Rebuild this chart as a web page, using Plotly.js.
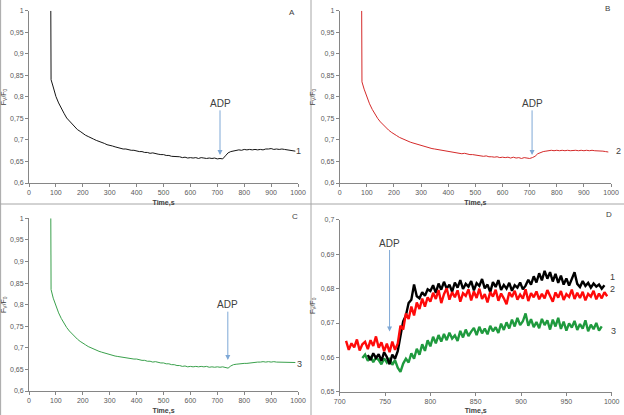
<!DOCTYPE html>
<html>
<head>
<meta charset="utf-8">
<script src="https://cdn.plot.ly/plotly-3.0.1.min.js"></script>
<style>html,body{margin:0;padding:0;background:#fff;}#chart{width:624px;height:415px;}</style>
</head>
<body>
<div id="chart"></div>
<script>
// ---------- Data ----------
// Panels A, B, C: full recordings, time in s
var timeABC = [81, 82, 90, 100, 110, 120, 130, 140, 150, 160, 170, 180, 190, 200, 210, 220, 230, 240, 250, 260, 270, 280, 290, 300, 310, 320, 330, 340, 350, 360, 370, 380, 390, 400, 410, 420, 430, 440, 450, 460, 470, 480, 490, 500, 510, 520, 530, 540, 550, 560, 570, 580, 590, 600, 610, 620, 630, 640, 650, 660, 670, 680, 690, 700, 710, 720, 730, 740, 750, 760, 770, 780, 790, 800, 810, 820, 830, 840, 850, 860, 870, 880, 890, 900, 910, 920, 930, 940, 950, 960, 970, 980, 990];

var series1 = [1.0, 0.840, 0.823, 0.801, 0.786, 0.772, 0.762, 0.751, 0.744, 0.736, 0.731, 0.724, 0.720, 0.715, 0.711, 0.708, 0.704, 0.702, 0.699, 0.697, 0.694, 0.692, 0.689, 0.688, 0.686, 0.684, 0.682, 0.681, 0.679, 0.679, 0.677, 0.676, 0.676, 0.674, 0.673, 0.673, 0.671, 0.671, 0.669, 0.670, 0.668, 0.667, 0.666, 0.666, 0.664, 0.664, 0.662, 0.662, 0.661, 0.661, 0.659, 0.660, 0.658, 0.659, 0.658, 0.659, 0.657, 0.659, 0.658, 0.657, 0.658, 0.657, 0.658, 0.656, 0.657, 0.656, 0.663, 0.670, 0.673, 0.674, 0.676, 0.677, 0.676, 0.678, 0.677, 0.678, 0.677, 0.678, 0.677, 0.678, 0.677, 0.679, 0.679, 0.680, 0.678, 0.679, 0.678, 0.679, 0.678, 0.677, 0.677, 0.675, 0.674];

var series2 = [1.0, 0.835, 0.818, 0.800, 0.784, 0.771, 0.760, 0.750, 0.742, 0.735, 0.729, 0.723, 0.718, 0.713, 0.710, 0.706, 0.703, 0.700, 0.698, 0.695, 0.693, 0.691, 0.689, 0.687, 0.685, 0.683, 0.682, 0.680, 0.679, 0.678, 0.676, 0.676, 0.674, 0.674, 0.672, 0.672, 0.670, 0.670, 0.668, 0.669, 0.667, 0.666, 0.666, 0.665, 0.664, 0.664, 0.662, 0.663, 0.661, 0.661, 0.660, 0.661, 0.659, 0.660, 0.659, 0.660, 0.658, 0.660, 0.658, 0.659, 0.657, 0.659, 0.658, 0.657, 0.659, 0.662, 0.668, 0.671, 0.673, 0.674, 0.675, 0.676, 0.675, 0.676, 0.675, 0.676, 0.675, 0.676, 0.675, 0.676, 0.676, 0.675, 0.676, 0.675, 0.676, 0.675, 0.676, 0.675, 0.675, 0.674, 0.674, 0.673, 0.672];

var series3 = [1.0, 0.835, 0.815, 0.797, 0.781, 0.768, 0.757, 0.747, 0.739, 0.732, 0.726, 0.720, 0.715, 0.710, 0.707, 0.703, 0.700, 0.697, 0.695, 0.692, 0.690, 0.688, 0.686, 0.685, 0.683, 0.681, 0.680, 0.679, 0.677, 0.677, 0.675, 0.675, 0.674, 0.674, 0.672, 0.671, 0.671, 0.669, 0.669, 0.667, 0.668, 0.666, 0.665, 0.665, 0.663, 0.663, 0.661, 0.661, 0.659, 0.659, 0.657, 0.658, 0.656, 0.657, 0.656, 0.657, 0.656, 0.657, 0.656, 0.657, 0.655, 0.656, 0.655, 0.656, 0.655, 0.656, 0.655, 0.653, 0.658, 0.661, 0.662, 0.663, 0.663, 0.664, 0.664, 0.665, 0.665, 0.666, 0.667, 0.667, 0.668, 0.667, 0.668, 0.667, 0.668, 0.667, 0.667, 0.666, 0.667, 0.666, 0.667, 0.666, 0.666];

// Panel D: zoom on 700-1000 s, sampled every 3 s
var dStep = 3;
var dStart1 = 731, dStart2 = 707, dStart3 = 725;
var zoom1 = [0.6607, 0.6592, 0.6612, 0.6598, 0.6609, 0.6590, 0.6615, 0.6601, 0.6580, 0.6608, 0.6596, 0.6618,
  0.6662, 0.6705, 0.6722, 0.6758, 0.6768, 0.6812, 0.6778, 0.6772, 0.6790, 0.6779, 0.6798,
  0.6793, 0.6810, 0.6788, 0.6815, 0.6797, 0.6820, 0.6800, 0.6812, 0.6791, 0.6818,
  0.6803, 0.6825, 0.6799, 0.6814, 0.6806, 0.6822, 0.6795, 0.6816, 0.6808, 0.6828,
  0.6801, 0.6812, 0.6790, 0.6819, 0.6805, 0.6825, 0.6796, 0.6811, 0.6800, 0.6817,
  0.6794, 0.6810, 0.6803, 0.6818, 0.6798, 0.6809, 0.6826, 0.6812, 0.6836, 0.6818,
  0.6845, 0.6824, 0.6852, 0.6829, 0.6848, 0.6821, 0.6843, 0.6817, 0.6838, 0.6812,
  0.6830, 0.6809, 0.6826, 0.6848, 0.6814, 0.6805, 0.6822, 0.6808, 0.6817, 0.6803,
  0.6815, 0.6806, 0.6812, 0.6800, 0.6810];
var zoom2 = [0.6648, 0.6622, 0.6641, 0.6629, 0.6652, 0.6620, 0.6638, 0.6645, 0.6624, 0.6650, 0.6633, 0.6661, 0.6628, 0.6644, 0.6618, 0.6640, 0.6615, 0.6646, 0.6622,
  0.6640, 0.6692, 0.6681, 0.6728, 0.6712, 0.6748, 0.6722, 0.6760, 0.6741, 0.6771, 0.6748, 0.6775,
  0.6762, 0.6788, 0.6770, 0.6796, 0.6758, 0.6784, 0.6801, 0.6768, 0.6790, 0.6775,
  0.6795, 0.6762, 0.6787, 0.6779, 0.6798, 0.6766, 0.6792, 0.6773, 0.6800, 0.6770,
  0.6784, 0.6760, 0.6790, 0.6777, 0.6797, 0.6765, 0.6786, 0.6772, 0.6755, 0.6789,
  0.6776, 0.6794, 0.6768, 0.6783, 0.6771, 0.6798, 0.6764, 0.6787, 0.6775, 0.6792,
  0.6769, 0.6785, 0.6772, 0.6796, 0.6778, 0.6762, 0.6789, 0.6774, 0.6793, 0.6767,
  0.6784, 0.6776, 0.6797, 0.6770, 0.6788, 0.6773, 0.6791, 0.6766, 0.6785, 0.6777,
  0.6794, 0.6769, 0.6786, 0.6772, 0.6790, 0.6778];
var zoom3 = [0.6598, 0.6608, 0.6590, 0.6603, 0.6586, 0.6600, 0.6592, 0.6580, 0.6597, 0.6585, 0.6598, 0.6578, 0.6592, 0.6570, 0.6558, 0.6582, 0.6596, 0.6585,
  0.6612, 0.6596, 0.6625, 0.6608, 0.6638, 0.6619, 0.6650, 0.6632, 0.6660, 0.6641,
  0.6665, 0.6646, 0.6668, 0.6650, 0.6672, 0.6655, 0.6664, 0.6648, 0.6677, 0.6658,
  0.6681, 0.6662, 0.6675, 0.6686, 0.6665, 0.6689, 0.6670, 0.6684, 0.6667, 0.6692,
  0.6676, 0.6688, 0.6671, 0.6698, 0.6680, 0.6702, 0.6684, 0.6710, 0.6690, 0.6715,
  0.6694, 0.6705, 0.6728, 0.6692, 0.6711, 0.6688, 0.6703, 0.6685, 0.6712, 0.6694,
  0.6708, 0.6681, 0.6710, 0.6690, 0.6715, 0.6683, 0.6704, 0.6678, 0.6699, 0.6687,
  0.6706, 0.6680, 0.6697, 0.6684, 0.6708, 0.6676, 0.6695, 0.6682, 0.6700, 0.6678, 0.6690];

// Tick labels
var yTickValsABC = [0.6, 0.65, 0.7, 0.75, 0.8, 0.85, 0.9, 0.95, 1];
var yTickTextABC = ['0,6', '0,65', '0,7', '0,75', '0,8', '0,85', '0,9', '0,95', '1'];
var yTickValsD = [0.65, 0.66, 0.67, 0.68, 0.69, 0.7];
var yTickTextD = ['0,65', '0,66', '0,67', '0,68', '0,69', '0,7'];
var xTickValsABC = [0, 100, 200, 300, 400, 500, 600, 700, 800, 900, 1000];
var xTickValsD = [700, 750, 800, 850, 900, 950, 1000];

// ---------- helpers ----------
function timeGrid(start, n, step) { var t = []; for (var i = 0; i < n; i++) t.push(start + i * step); return t; }

var tD1 = timeGrid(dStart1, zoom1.length, dStep);
var tD2 = timeGrid(dStart2, zoom2.length, dStep);
var tD3 = timeGrid(dStart3, zoom3.length, dStep);

var AX = '#868686', TK = '#595959', TXT = '#404040', FONT = 'Liberation Sans, Arial, sans-serif';
var cBlack = '#151515', cRed = '#d42a2a', cGreen = '#3aa04c';

var traces = [
  {x: timeABC, y: series1, xaxis: 'x', yaxis: 'y', mode: 'lines', line: {color: cBlack, width: 1}},
  {x: timeABC, y: series2, xaxis: 'x2', yaxis: 'y2', mode: 'lines', line: {color: cRed, width: 1}},
  {x: timeABC, y: series3, xaxis: 'x3', yaxis: 'y3', mode: 'lines', line: {color: cGreen, width: 1}},
  {x: tD3, y: zoom3, xaxis: 'x4', yaxis: 'y4', mode: 'lines', line: {color: '#1f9a3e', width: 2.4}},
  {x: tD1, y: zoom1, xaxis: 'x4', yaxis: 'y4', mode: 'lines', line: {color: '#000000', width: 2.4}},
  {x: tD2, y: zoom2, xaxis: 'x4', yaxis: 'y4', mode: 'lines', line: {color: '#ff0a0a', width: 2.4}}
];

function xa(dom, anchor, range, ticks) {
  return {domain: dom, anchor: anchor, range: range, tickvals: ticks, showgrid: false, zeroline: false,
    showline: true, linecolor: AX, linewidth: 1, ticks: 'outside', ticklen: 3, tickcolor: AX,
    tickfont: {family: FONT, size: 7, color: TK}, fixedrange: true,
    title: {text: '<b>Time,s</b>', font: {family: FONT, size: 7, color: TXT}, standoff: 4}};
}
function ya(dom, anchor, range, vals, text) {
  return {domain: dom, anchor: anchor, range: range, tickvals: vals, ticktext: text, showgrid: false, zeroline: false,
    showline: true, linecolor: AX, linewidth: 1, ticks: 'outside', ticklen: 3, tickcolor: AX,
    tickfont: {family: FONT, size: 7, color: TK}, fixedrange: true,
    title: {text: 'F<sub>V</sub>/F<sub>0</sub>', font: {family: FONT, size: 7, color: TXT}, standoff: 4}};
}

function adp(xr, yr, x, yTip, yText) {
  return {xref: xr, yref: yr, axref: xr, ayref: yr, x: x, y: yTip, ax: x, ay: yText, text: 'ADP',
    showarrow: true, arrowhead: 2, arrowsize: 1, arrowwidth: 1, arrowcolor: '#7ea8d6',
    font: {family: FONT, size: 10, color: TXT}};
}
function lab(x, y, t, size) {
  return {xref: 'paper', yref: 'paper', x: x, y: y, text: t, showarrow: false, xanchor: 'center', yanchor: 'middle',
    font: {family: FONT, size: size, color: TXT}};
}

var layout = {
  width: 624, height: 415, margin: {l: 0, r: 0, t: 0, b: 0},
  paper_bgcolor: '#ffffff', plot_bgcolor: 'rgba(0,0,0,0)', showlegend: false,
  xaxis: xa([0.0465, 0.4776], 'y', [0, 1000], xTickValsABC),
  yaxis: ya([0.559, 0.974], 'x', [0.6, 1], yTickValsABC, yTickTextABC),
  xaxis2: xa([0.5444, 0.9792], 'y2', [0, 1000], xTickValsABC),
  yaxis2: ya([0.559, 0.974], 'x2', [0.6, 1], yTickValsABC, yTickTextABC),
  xaxis3: xa([0.0465, 0.4776], 'y3', [0, 1000], xTickValsABC),
  yaxis3: ya([0.0578, 0.474], 'x3', [0.6, 1], yTickValsABC, yTickTextABC),
  xaxis4: xa([0.5444, 0.9803], 'y4', [700, 1000], xTickValsD),
  yaxis4: ya([0.0561, 0.4699], 'x4', [0.65, 0.7], yTickValsD, yTickTextD),
  annotations: [
    adp('x', 'y', 710, 0.665, 0.785),
    adp('x2', 'y2', 709, 0.665, 0.785),
    adp('x3', 'y3', 739, 0.672, 0.80),
    adp('x4', 'y4', 755, 0.6675, 0.6933),
    lab(0.4785, 0.6361, '1', 9),
    lab(0.9904, 0.6361, '2', 9),
    lab(0.4792, 0.1229, '3', 9),
    lab(0.9808, 0.3325, '1', 9),
    lab(0.9808, 0.3036, '2', 9),
    lab(0.9832, 0.2024, '3', 9),
    lab(0.468, 0.969, 'A', 8),
    lab(0.974, 0.979, 'B', 8),
    lab(0.4728, 0.4795, 'C', 8),
    lab(0.976, 0.482, 'D', 8)
  ],
  shapes: [
    {type: 'line', xref: 'paper', yref: 'paper', x0: 0.4984, x1: 0.4984, y0: 0, y1: 1, line: {color: '#a6a6a6', width: 1}},
    {type: 'line', xref: 'paper', yref: 'paper', x0: 0, x1: 1, y0: 0.5084, y1: 0.5084, line: {color: '#a6a6a6', width: 1}},
    {type: 'line', xref: 'paper', yref: 'paper', x0: 0.001, x1: 0.001, y0: 0, y1: 1, line: {color: '#a6a6a6', width: 1}}
  ]
};

Plotly.newPlot('chart', traces, layout, {staticPlot: true, displayModeBar: false});
</script>
</body>
</html>
